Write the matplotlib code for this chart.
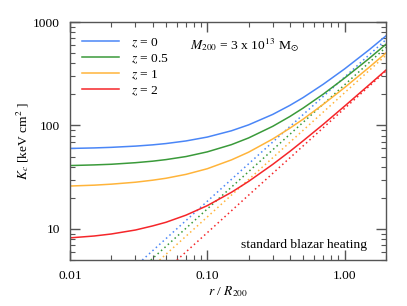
import matplotlib
matplotlib.use("Agg")
import matplotlib.pyplot as plt
from matplotlib.ticker import FixedLocator, NullFormatter, LogLocator

plt.rcParams['font.family'] = ['Liberation Serif', 'DejaVu Serif']
plt.rcParams['mathtext.fontset'] = 'stix'

# radii (r / R200) for solid curves
r_solid = [0.01, 0.015, 0.02, 0.03, 0.04, 0.05, 0.07, 0.1, 0.15, 0.2, 0.3, 0.4, 0.5, 0.7, 1.0, 1.5, 2.0]
K_z0 = [60, 60.7, 61.5, 63.2, 65.0, 66.9, 70.9, 77.3, 88.9, 101.4, 128, 156.5, 186.4, 250.4, 351.8, 534.8, 732.8]
K_z05 = [41, 41.6, 42.2, 43.7, 45.2, 46.8, 50.1, 55.6, 65.3, 75.8, 98.2, 122.2, 147.5, 201, 287, 441, 608]
K_z1 = [26, 26.5, 27.1, 28.3, 29.6, 30.9, 33.7, 38.2, 46.5, 55.2, 74.1, 94.2, 115.2, 160.2, 232.2, 362, 501]
K_z2 = [8.2, 8.55, 8.94, 9.77, 10.7, 11.6, 13.6, 16.8, 22.6, 28.8, 42.1, 56.2, 71.2, 102.6, 153.6, 245, 342.6]

# dotted (baseline) curves
r_dot_z0 = [0.0336, 0.05, 0.1, 0.2, 0.5, 1.0, 2.0]
Kd_z0 = [5, 8.06, 18.5, 42.6, 127.6, 293, 674]
r_dot_z05 = [0.0388, 0.05, 0.1, 0.2, 0.5, 1.0, 2.0]
Kd_z05 = [5, 6.78, 15.6, 35.8, 107.5, 247, 568]
r_dot_z1 = [0.0449, 0.05, 0.1, 0.2, 0.5, 1.0, 2.0]
Kd_z1 = [5, 5.69, 13.05, 30, 90, 207, 476]
r_dot_z2 = [0.0601, 0.1, 0.2, 0.5, 1.0, 2.0]
Kd_z2 = [5, 9.2, 21.2, 63.6, 146, 335]

labels = ['$z$ = 0', '$z$ = 0.5', '$z$ = 1', '$z$ = 2']
colors = ['#4a86f7', '#3a9a3a', '#ffb43a', '#f5262a']

xticks = [0.01, 0.1, 1.0]
xticklabels = ['0.01', '0.10', '1.00']
yticks = [10, 100, 1000]
yticklabels = ['10', '100', '1000']

FS = 9.7

fig = plt.figure(figsize=(4.07, 3.06), dpi=100)
ax = fig.add_axes([0.172, 0.150, 0.776, 0.778])

solids = [K_z0, K_z05, K_z1, K_z2]
dots = [(r_dot_z0, Kd_z0), (r_dot_z05, Kd_z05), (r_dot_z1, Kd_z1), (r_dot_z2, Kd_z2)]
for K, (rd, Kd), c, lab in zip(solids, dots, colors, labels):
    ax.plot(r_solid, K, color=c, lw=1.1, label=lab)
    ax.plot(rd, Kd, color=c, lw=1.1, ls=(0, (1, 2)))

ax.set_xscale('log')
ax.set_yscale('log')
ax.set_xlim(0.01, 2.0)
ax.set_ylim(5, 1000)

ax.xaxis.set_major_locator(FixedLocator(xticks))
ax.set_xticklabels(xticklabels)
ax.yaxis.set_major_locator(FixedLocator(yticks))
ax.set_yticklabels(yticklabels)
ax.xaxis.set_minor_locator(LogLocator(base=10, subs=range(2, 10)))
ax.yaxis.set_minor_locator(LogLocator(base=10, subs=range(2, 10)))
ax.xaxis.set_minor_formatter(NullFormatter())
ax.yaxis.set_minor_formatter(NullFormatter())

for s in ax.spines.values():
    s.set_color('#555555')
    s.set_linewidth(1.0)
ax.tick_params(which='both', direction='in', top=True, right=True, colors='#555555',
               labelcolor='black', labelsize=FS)
ax.tick_params(which='major', length=7, width=1.0, pad=7)
ax.tick_params(which='minor', length=3.5, width=0.8)

ax.set_xlabel('$r$ / $R_{200}$', fontsize=FS, labelpad=2)
ax.set_ylabel('$K_c$ [keV cm$^2$ ]', fontsize=FS, labelpad=2)

leg = ax.legend(loc='upper left', frameon=False, fontsize=FS, handlelength=2.75,
                handletextpad=0.85, labelspacing=0.2, borderaxespad=0.5,
                bbox_to_anchor=(0.0, 0.99))

ax.text(0.38, 0.905, r'$M_{200}$ = 3 x 10$^{13}$ M$_{\odot}$', transform=ax.transAxes,
        fontsize=FS, ha='left', va='center')
ax.text(0.94, 0.065, 'standard blazar heating', transform=ax.transAxes,
        fontsize=FS, ha='right', va='center')

fig.savefig('out.png', dpi=100)
